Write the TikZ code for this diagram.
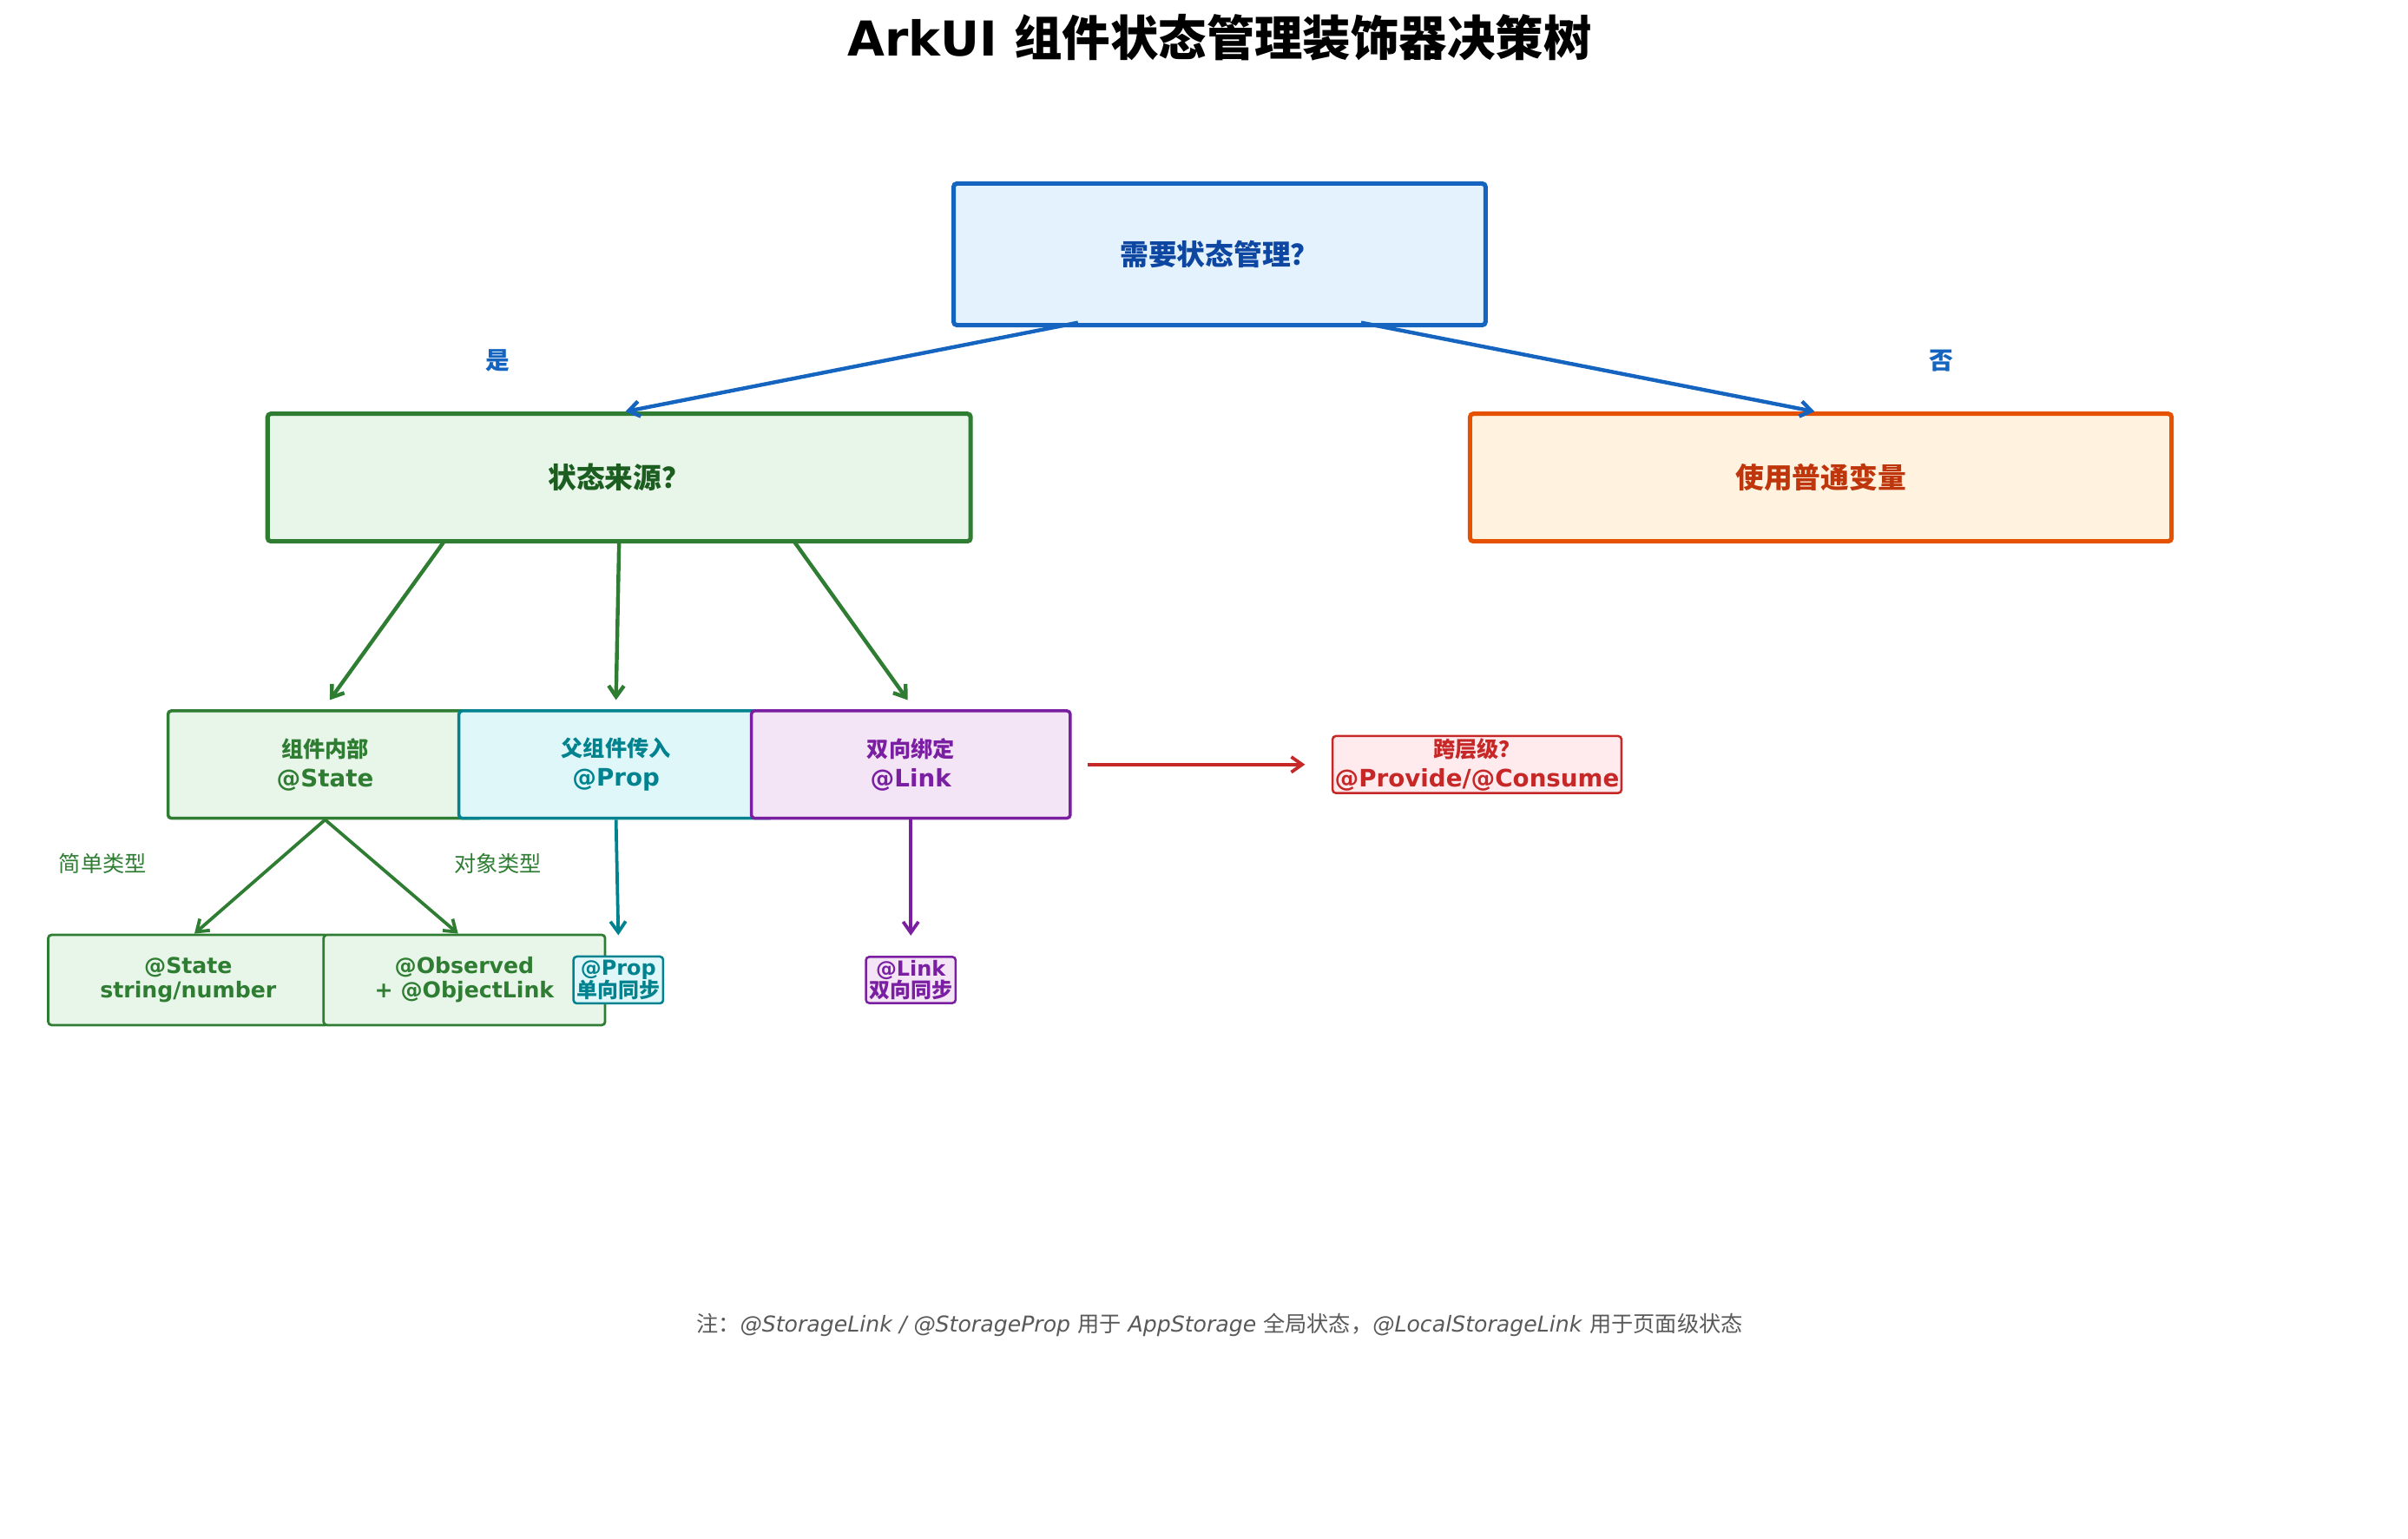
\documentclass[tikz,border=0pt]{standalone}
\usepackage{fontspec}
\setmainfont{DejaVu Sans}
\newfontfamily\cjk{Noto Sans CJK SC}
\usetikzlibrary{arrows.meta,positioning}
\definecolor{rootline}{HTML}{1565C0}\definecolor{rootfill}{HTML}{E3F2FD}\definecolor{roottext}{HTML}{0D47A1}
\definecolor{srcline}{HTML}{2E7D32}\definecolor{srcfill}{HTML}{E8F5E9}\definecolor{srctext}{HTML}{1B5E20}
\definecolor{plainline}{HTML}{E65100}\definecolor{plainfill}{HTML}{FFF3E0}\definecolor{plaintext}{HTML}{BF360C}
\definecolor{propline}{HTML}{00838F}\definecolor{propfill}{HTML}{E0F7FA}
\definecolor{linkline}{HTML}{7B1FA2}\definecolor{linkfill}{HTML}{F3E5F5}
\definecolor{provline}{HTML}{C62828}\definecolor{provfill}{HTML}{FFEBEE}
\tikzset{
  box/.style={rounded corners=3pt, align=center, font=\bfseries},
  big/.style={box, line width=4pt, font=\cjk\bfseries\fontsize{26}{30}\selectfont},
  mid/.style={box, line width=2.8pt, font=\bfseries\fontsize{22}{27}\selectfont},
  low/.style={box, line width=2.2pt, font=\bfseries\fontsize{20}{22}\selectfont},
  tiny/.style={box, line width=2pt, font=\bfseries\fontsize{19}{20}\selectfont, inner sep=3pt},
  link/.style={line width=3.5pt, -{Straight Barb[length=10pt,width=14pt]}},
  lbl/.style={font=\cjk\fontsize{20}{24}\selectfont}
}
\begin{document}
\begin{tikzpicture}[x=0.05cm,y=-0.05cm]
  \useasboundingbox (0,0) rectangle (1548,989);
  % title
  \node[font=\bfseries\fontsize{44}{50}\selectfont] (title) at (784,24) {ArkUI {\cjk 组件状态管理装饰器决策树}};
  % top level
  \node[big, draw=rootline, fill=rootfill, text=roottext, minimum width=17.1cm, minimum height=4.55cm] (need) at (784,163.5) {需要状态管理？};
  \node[big, draw=srcline, fill=srcfill, text=srctext, minimum width=22.6cm, minimum height=4.1cm] (source) at (398,307) {状态来源？};
  \node[big, draw=plainline, fill=plainfill, text=plaintext, minimum width=22.55cm, minimum height=4.1cm] (plain) at (1170.5,307) {使用普通变量};
  \node[lbl, font=\cjk\bfseries\fontsize{22}{24}\selectfont, text=rootline] (yes) at (320,232) {是};
  \node[lbl, font=\cjk\bfseries\fontsize{22}{24}\selectfont, text=rootline] (no) at (1248,232) {否};
  % middle row
  \node[mid, draw=srcline, fill=srcfill, text=srcline, minimum width=10.1cm, minimum height=3.45cm] (inner) at (209,491.5) {{\cjk\fontsize{20}{24}\selectfont 组件内部}\\@State};
  \node[mid, draw=propline, fill=propfill, text=propline, minimum width=10.1cm, minimum height=3.45cm] (parent) at (396,491.5) {{\cjk\fontsize{20}{24}\selectfont 父组件传入}\\@Prop};
  \node[mid, draw=linkline, fill=linkfill, text=linkline, minimum width=10.25cm, minimum height=3.45cm] (twoway) at (585.5,491.5) {{\cjk\fontsize{20}{24}\selectfont 双向绑定}\\@Link};
  \node[mid, draw=provline, fill=provfill, text=provline, line width=2pt, inner sep=2pt] (cross) at (949.5,491.5) {{\cjk\fontsize{20}{24}\selectfont 跨层级？}\\@Provide/@Consume};
  % bottom row
  \node[low, draw=srcline, fill=srcfill, text=srcline, minimum width=9cm, minimum height=2.9cm] (simple) at (121,630) {@State\\string/number};
  \node[low, draw=srcline, fill=srcfill, text=srcline, minimum width=9.05cm, minimum height=2.9cm] (object) at (298.5,630) {@Observed\\+ @ObjectLink};
  \node[tiny, draw=propline, fill=propfill, text=propline] (propsync) at (397.5,630) {@Prop\\{\cjk 单向同步}};
  \node[tiny, draw=linkline, fill=linkfill, text=linkline] (linksync) at (585.5,630) {@Link\\{\cjk 双向同步}};
  \node[lbl, text=srcline] (simplelbl) at (66,555) {简单类型};
  \node[lbl, text=srcline] (objectlbl) at (320,555) {对象类型};
  % connectors
  \draw[link, rootline] ([xshift=-4.55cm,yshift=0.15cm]need.south) -- ([xshift=0.2cm]source.north);
  \draw[link, rootline] ([xshift=4.55cm,yshift=0.15cm]need.south) -- ([xshift=-0.2cm]plain.north);
  \draw[link, srcline] ([xshift=-5.6cm,yshift=0.1cm]source.south) -- ([xshift=0.15cm,yshift=0.3cm]inner.north);
  \draw[link, srcline] ([yshift=0.1cm]source.south) -- ([yshift=0.3cm]parent.north);
  \draw[link, srcline] ([xshift=5.6cm,yshift=0.1cm]source.south) -- ([xshift=-0.1cm,yshift=0.3cm]twoway.north);
  \draw[link, srcline, line width=3pt] (inner.south) -- ([xshift=0.2cm]simple.north);
  \draw[link, srcline, line width=3pt] (inner.south) -- ([xshift=-0.2cm]object.north);
  \draw[link, propline, line width=3pt] (parent.south) -- ([yshift=0.65cm]propsync.north);
  \draw[link, linkline, line width=3pt] (twoway.south) -- ([yshift=0.65cm]linksync.north);
  \draw[link, provline, line width=3pt] ([xshift=0.5cm]twoway.east) -- ([xshift=-0.85cm]cross.west);
  % footer
  \node[font=\fontsize{20}{24}\selectfont, text=black!65] (note) at (784,852) {{\cjk 注：}\textit{@StorageLink / @StorageProp} {\cjk 用于} \textit{AppStorage} {\cjk 全局状态，}\textit{@LocalStorageLink} {\cjk 用于页面级状态}};
\end{tikzpicture}
\end{document}
